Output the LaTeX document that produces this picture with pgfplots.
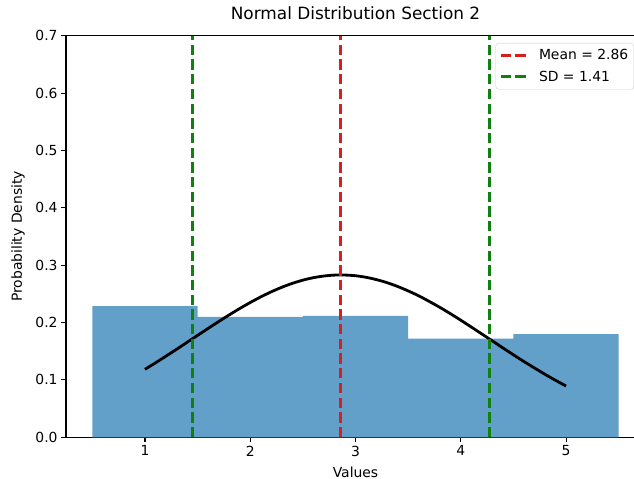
\documentclass[border=0pt]{standalone}
\usepackage{pgfplots}
\pgfplotsset{compat=1.18}
\usepackage{fontspec}
\setmainfont{DejaVu Sans}
\definecolor{histblue}{HTML}{62A0CA}
\definecolor{mred}{HTML}{DA1E1E}
\definecolor{mgreen}{HTML}{118011}
\begin{document}
\begin{tikzpicture}
\begin{axis}[
  scale only axis,
  width=579pt, height=401.6pt,
  xmin=0.25, xmax=5.75, ymin=0, ymax=0.7,
  xtick={1,2,3,4,5},
  ytick={0,0.1,0.2,0.3,0.4,0.5,0.6,0.7},
  yticklabel style={/pgf/number format/fixed, /pgf/number format/fixed zerofill, /pgf/number format/precision=1},
  /pgf/number format/assume math mode=true,
  tick label style={font=\fontsize{13.9}{16}\selectfont, black},
  tick align=outside, xtick pos=bottom, ytick pos=left,
  major tick length=4.9pt,
  tick style={black, line width=1.1pt},
  axis line style={black, line width=1.1pt},
  xlabel={Values}, ylabel={Probability Density},
  label style={font=\fontsize{13.9}{16}\selectfont},
  xlabel style={at={(axis description cs:0.5,-0.088)}, anchor=center},
  ylabel style={at={(axis description cs:-0.083,0.5)}, anchor=center},
  title={Normal Distribution Section 2},
  title style={font=\fontsize{16.9}{19}\selectfont, at={(axis description cs:0.5,1.04)}, anchor=center},
  legend style={at={(rel axis cs:0.981,0.982)}, anchor=north east, draw=black!20, rounded corners=3pt, fill=white, fill opacity=0.8, text opacity=1, font=\fontsize{13.9}{16}\selectfont, inner xsep=3.5pt, inner ysep=4.5pt, row sep=5.5pt, column sep=8pt, cells={anchor=west}},
  legend image code/.code={\draw[#1] (0pt,0pt) -- (27pt,0pt);},
]
\addplot[ybar interval, fill=histblue, draw=none, forget plot] coordinates {
(0.5,0.2287) (1.5,0.2100) (2.5,0.2118) (3.5,0.1722) (4.5,0.1798) (5.5,0.1798)};
\addplot[black, line width=2.8pt, smooth, forget plot] coordinates {
(1.0,0.1185) (1.1,0.1298) (1.2,0.1415) (1.3,0.1534) (1.4,0.1655) (1.5,0.1777)
(1.6,0.1898) (1.7,0.2017) (1.8,0.2133) (1.9,0.2244) (2.0,0.2349) (2.1,0.2447)
(2.2,0.2536) (2.3,0.2615) (2.4,0.2683) (2.5,0.2739) (2.6,0.2782) (2.7,0.2811)
(2.8,0.2827) (2.9,0.2828) (3.0,0.2816) (3.1,0.2789) (3.2,0.2748) (3.3,0.2695)
(3.4,0.2629) (3.5,0.2552) (3.6,0.2466) (3.7,0.2369) (3.8,0.2266) (3.9,0.2156)
(4.0,0.2041) (4.1,0.1922) (4.2,0.1801) (4.3,0.1680) (4.4,0.1558) (4.5,0.1438)
(4.6,0.1321) (4.7,0.1208) (4.8,0.1098) (4.9,0.0993) (5.0,0.0894)};
\addplot[mred, line width=2.8pt, dash pattern=on 10.3pt off 4.4pt] coordinates {(2.86,0) (2.86,0.7)};
\addlegendentry{Mean = 2.86}
\addplot[mgreen, line width=2.8pt, dash pattern=on 10.3pt off 4.4pt] coordinates {(1.45,0) (1.45,0.7)};
\addlegendentry{SD = 1.41}
\addplot[mgreen, line width=2.8pt, dash pattern=on 10.3pt off 4.4pt, forget plot] coordinates {(4.27,0) (4.27,0.7)};
\coordinate (bbsw) at (rel axis cs:-0.114,-0.1038);
\coordinate (bbne) at (rel axis cs:0.981,1.0889);
\end{axis}
\pgfresetboundingbox
\path[use as bounding box] (bbsw) rectangle (bbne);
\end{tikzpicture}
\end{document}
